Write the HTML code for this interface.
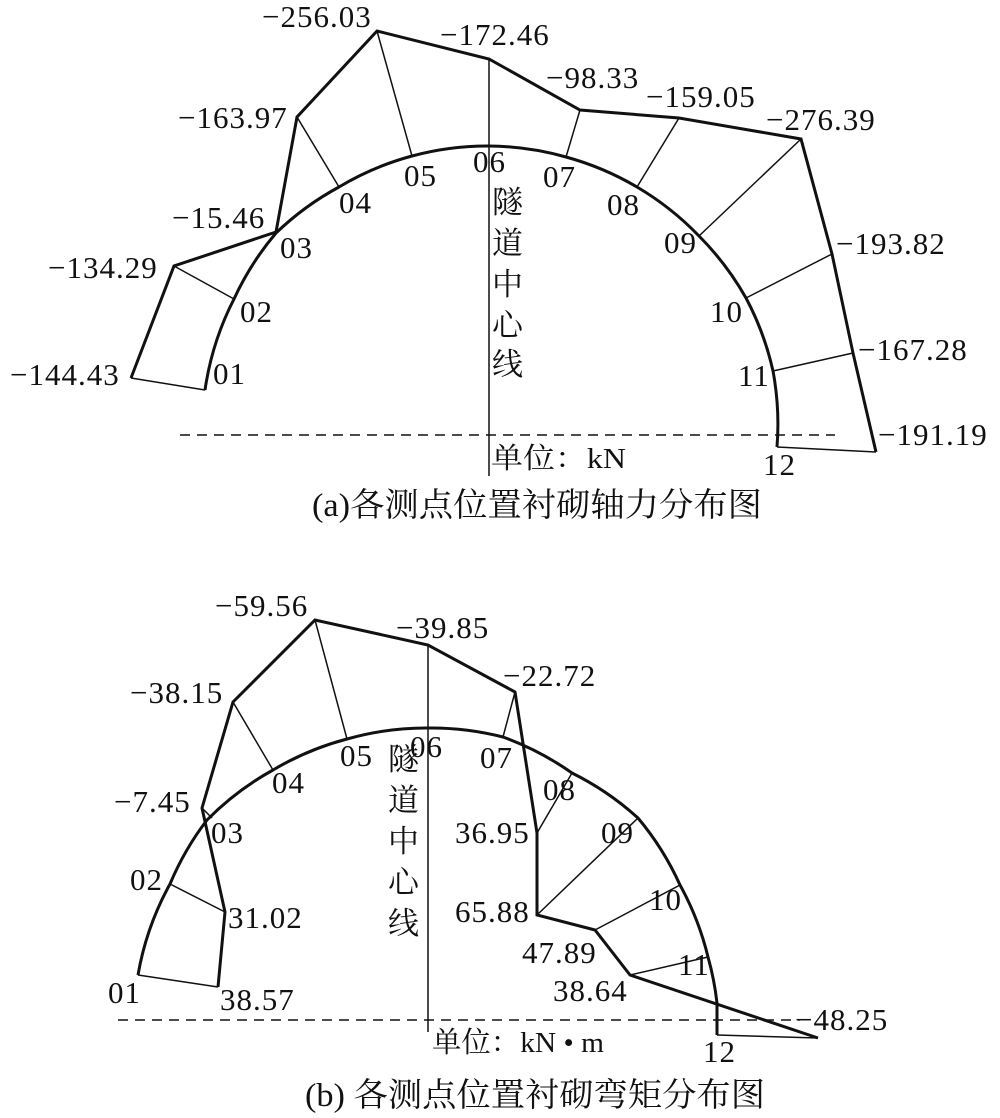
<!DOCTYPE html>
<html><head><meta charset="utf-8"><style>
html,body{margin:0;padding:0;background:#fff;}
svg{display:block;}
text{font-family:"Liberation Serif","Noto Serif CJK SC",serif;fill:#111;}
.n{font-size:31px;letter-spacing:1px;}
.c{font-size:31px;font-family:"Liberation Serif","Noto Sans CJK SC",serif;}
</style></head><body>
<svg width="1000" height="1118" viewBox="0 0 1000 1118" xmlns="http://www.w3.org/2000/svg">
<g fill="none" stroke="#111">
<line x1="489" y1="59" x2="489" y2="476" stroke-width="1.5"/>
<line x1="180" y1="435" x2="835" y2="435" stroke-width="1.5" stroke-dasharray="10,7"/>
<path d="M205,390 A290,290 0 0 1 234,299 A290,290 0 0 1 276,233 A290,290 0 0 1 339,187 A290,290 0 0 1 412,156 A290,290 0 0 1 489,146 A290,290 0 0 1 566,157 A290,290 0 0 1 637,187 A290,290 0 0 1 699,236 A290,290 0 0 1 746,298 A290,290 0 0 1 773,371 A290,290 0 0 1 777,447" stroke-width="3"/>
<polyline points="131,378 174,266 276,232 297,117 377,31 489,59 580,110 679,118 801,139 832,254 853,353 876,452" stroke-width="3"/>
<g stroke-width="1.5">
<line x1="131" y1="378" x2="205" y2="390"/>
<line x1="174" y1="266" x2="234" y2="299"/>
<line x1="297" y1="117" x2="339" y2="187"/>
<line x1="377" y1="31" x2="412" y2="156"/>
<line x1="580" y1="110" x2="566" y2="157"/>
<line x1="679" y1="118" x2="637" y2="187"/>
<line x1="801" y1="139" x2="699" y2="236"/>
<line x1="832" y1="254" x2="746" y2="298"/>
<line x1="853" y1="353" x2="773" y2="371"/>
<line x1="876" y1="452" x2="777" y2="447"/>
</g>
<line x1="428" y1="645" x2="428" y2="1032" stroke-width="1.5"/>
<line x1="118" y1="1020" x2="800" y2="1020" stroke-width="1.5" stroke-dasharray="10,7"/>
<path d="M138,975 A290,290 0 0 1 170,884 A290,290 0 0 1 207,820 A290,290 0 0 1 273,770 A290,290 0 0 1 347,739 A290,290 0 0 1 428,728 A290,290 0 0 1 503,737 A290,290 0 0 1 572,773 A290,290 0 0 1 638,818 A290,290 0 0 1 680,885 A290,290 0 0 1 708,957 A290,290 0 0 1 717,1003 L717,1035" stroke-width="3"/>
<polyline points="218,987 225,912 202,808 233,702 315,620 428,645 515,692 537,833 537,915 595,930 630,975 818,1038" stroke-width="3"/>
<g stroke-width="1.5">
<line x1="138" y1="975" x2="218" y2="987"/>
<line x1="170" y1="884" x2="225" y2="912"/>
<line x1="202" y1="808" x2="212" y2="818"/>
<line x1="233" y1="702" x2="273" y2="770"/>
<line x1="315" y1="620" x2="347" y2="739"/>
<line x1="515" y1="692" x2="503" y2="737"/>
<line x1="537" y1="833" x2="572" y2="773"/>
<line x1="537" y1="915" x2="638" y2="818"/>
<line x1="595" y1="930" x2="680" y2="885"/>
<line x1="630" y1="975" x2="708" y2="957"/>
<line x1="717" y1="1035" x2="818" y2="1038"/>
</g>
</g>
<g class="n">
<text x="262" y="27">−256.03</text>
<text x="440" y="45">−172.46</text>
<text x="178" y="128">−163.97</text>
<text x="546" y="88">−98.33</text>
<text x="646" y="107">−159.05</text>
<text x="766" y="130">−276.39</text>
<text x="172" y="228">−15.46</text>
<text x="48" y="278">−134.29</text>
<text x="10" y="385">−144.43</text>
<text x="836" y="254">−193.82</text>
<text x="858" y="360">−167.28</text>
<text x="878" y="445">−191.19</text>
<text x="213" y="384">01</text>
<text x="240" y="322">02</text>
<text x="280" y="258">03</text>
<text x="339" y="213">04</text>
<text x="404" y="186">05</text>
<text x="473" y="172">06</text>
<text x="543" y="187">07</text>
<text x="607" y="215">08</text>
<text x="664" y="253">09</text>
<text x="710" y="322">10</text>
<text x="738" y="386">11</text>
<text x="763" y="475">12</text>
</g>
<g class="c">
<text x="492" y="213">隧</text>
<text x="492" y="254">道</text>
<text x="492" y="295">中</text>
<text x="492" y="336">心</text>
<text x="492" y="375">线</text>
<text x="491" y="468" style="font-size:29px" textLength="135" lengthAdjust="spacingAndGlyphs">单位：kN</text>
<text x="312" y="516" style="font-size:33px" textLength="450" lengthAdjust="spacingAndGlyphs">(a)各测点位置衬砌轴力分布图</text>
</g>
<g class="n">
<text x="215" y="616">−59.56</text>
<text x="396" y="638">−39.85</text>
<text x="503" y="686">−22.72</text>
<text x="130" y="703">−38.15</text>
<text x="114" y="812">−7.45</text>
<text x="211" y="843">03</text>
<text x="272" y="793">04</text>
<text x="340" y="766">05</text>
<text x="410" y="757">06</text>
<text x="480" y="768">07</text>
<text x="543" y="800">08</text>
<text x="601" y="843">09</text>
<text x="649" y="910">10</text>
<text x="678" y="975">11</text>
<text x="703" y="1062">12</text>
<text x="130" y="890">02</text>
<text x="228" y="928">31.02</text>
<text x="108" y="1003">01</text>
<text x="220" y="1010">38.57</text>
<text x="455" y="843">36.95</text>
<text x="455" y="922">65.88</text>
<text x="522" y="963">47.89</text>
<text x="553" y="1001">38.64</text>
<text x="795" y="1030">−48.25</text>
</g>
<g class="c">
<text x="388" y="770">隧</text>
<text x="388" y="811">道</text>
<text x="388" y="852">中</text>
<text x="388" y="893">心</text>
<text x="388" y="934">线</text>
<text x="432" y="1052" style="font-size:29px" textLength="172" lengthAdjust="spacingAndGlyphs">单位：kN • m</text>
<text x="305" y="1106" style="font-size:33px" textLength="460" lengthAdjust="spacingAndGlyphs">(b) 各测点位置衬砌弯矩分布图</text>
</g>
</svg>
</body></html>
